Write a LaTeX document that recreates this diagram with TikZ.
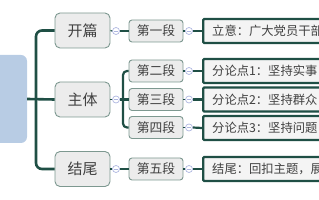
\documentclass[tikz,border=0pt]{standalone}
\usepackage{fontspec}
\setmainfont{Noto Sans CJK SC}
\definecolor{lnk}{HTML}{1F4F45}
\definecolor{bfill}{HTML}{ECECEC}
\definecolor{bdraw}{HTML}{7D9890}
\definecolor{rootc}{HTML}{B8CCE4}
\definecolor{txt}{HTML}{404040}
\definecolor{lav}{HTML}{AEB6E0}
\begin{document}
\begin{tikzpicture}[x=1pt,y=-1pt,
  rootbox/.style={fill=rootc,draw=none,rounded corners=6pt,minimum width=40pt,minimum height=88pt,inner sep=0pt},
  lone/.style={fill=bfill,draw=bdraw,line width=0.9pt,rounded corners=5pt,minimum width=55pt,minimum height=35pt,inner sep=0pt,text=txt,font=\fontsize{15}{15}\selectfont},
  ltwo/.style={fill=bfill,draw=bdraw,line width=0.9pt,rounded corners=3pt,minimum width=54pt,minimum height=22pt,inner sep=0pt,text=txt,font=\fontsize{12.8}{13}\selectfont},
  lthree/.style={fill=bfill!60!white,draw=lnk,line width=2.4pt,rounded corners=1pt,anchor=west,minimum height=24pt,text width=170pt,align=left,inner xsep=9pt,inner ysep=0pt,text=txt,font=\fontsize{12.3}{12}\selectfont},
  tog/.style={circle,draw=lav,fill=white,line width=0.7pt,minimum size=7pt,inner sep=0pt,
    path picture={\draw[lav,line width=0.7pt] ([xshift=-1.8pt]path picture bounding box.center) -- ([xshift=1.8pt]path picture bounding box.center);}},
  trunk/.style={draw=lnk,line width=2.6pt},
  conn/.style={draw=lnk,line width=2.2pt},
  thinc/.style={draw=lnk,line width=1.2pt}]
\useasboundingbox (0,0) rectangle (319,200);
\clip (0,0) rectangle (319,200);
% root
\node[rootbox] (root) at (7,99) {};
% level 1
\node[lone] (kp) at (82.5,30.5) {开篇};
\node[lone] (zt) at (82.5,99.5) {主体};
\node[lone] (jw) at (82.5,169) {结尾};
\coordinate (tr) at (36,99.5);
\draw[trunk] (root.east) -- (zt.west);
\draw[trunk,rounded corners=6pt] (kp.west) -| (tr) |- (jw.west);
% level 2
\node[ltwo] (d1) at (156,31) {第一段};
\node[ltwo] (d2) at (156,71) {第二段};
\node[ltwo] (d3) at (156,99.5) {第三段};
\node[ltwo] (d4) at (156,127.5) {第四段};
\node[ltwo] (d5) at (156,169) {第五段};
% toggles level 1
\node[tog] (c1) at (116,31) {};
\node[tog] (c2) at (116,99.5) {};
\node[tog] (c3) at (116,169) {};
\draw[thinc] (kp.east) -- (c1.west);
\draw[thinc] (zt.east) -- (c2.west);
\draw[thinc] (jw.east) -- (c3.west);
\draw[conn] (c1.east) -- (d1.west);
\draw[conn] (c3.east) -- (d5.west);
\coordinate (bus) at (123,99.5);
\draw[conn] (c2.east) -- (d3.west);
\draw[conn,rounded corners=4pt] (d2.west) -| (bus) |- (d4.west);
% level 3
\node[lthree] (t1) at (202,31) {立意：广大党员干部};
\node[lthree] (t2) at (202,71) {分论点1：坚持实事};
\node[lthree] (t3) at (202,99.5) {分论点2：坚持群众};
\node[lthree] (t4) at (202,128) {分论点3：坚持问题};
\node[lthree] (t5) at (202,169) {结尾：回扣主题，展};
% toggles level 2
\node[tog] (e1) at (189,31) {};
\node[tog] (e2) at (189,71) {};
\node[tog] (e3) at (189,99.5) {};
\node[tog] (e4) at (189,127.5) {};
\node[tog] (e5) at (189,169) {};
\foreach \i in {1,...,5}{
  \draw[thinc] (d\i.east) -- (e\i.west);
  \draw[conn] (e\i.east) -- (t\i.west);
}
\end{tikzpicture}
\end{document}
